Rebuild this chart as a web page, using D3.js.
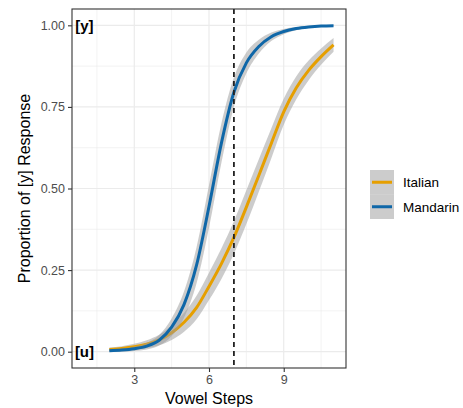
<!DOCTYPE html>
<html>
<head>
<meta charset="utf-8">
<script src="https://cdn.jsdelivr.net/npm/d3@7"></script>
<style>
  body { margin: 0; background: #fff; }
  text { font-family: "Liberation Sans", Arial, Helvetica, sans-serif; }
</style>
</head>
<body>
<div id="chart"></div>
<script>
const width = 463;
const height = 408;

// vowel steps where the fitted curves were read
const steps = [2, 2.5, 3, 3.5, 4, 4.5, 5, 5.5, 6, 6.5, 7, 7.5, 8, 8.5, 9, 9.5, 10, 10.5, 11];

// fitted proportion of [y] response
const italianFit = [0.007, 0.01, 0.015, 0.023, 0.036, 0.058, 0.09, 0.135, 0.2, 0.27, 0.35, 0.443, 0.54, 0.638, 0.735, 0.808, 0.862, 0.904, 0.94];
const mandarinFit = [0.003, 0.005, 0.009, 0.017, 0.035, 0.075, 0.145, 0.265, 0.445, 0.64, 0.795, 0.885, 0.935, 0.965, 0.981, 0.99, 0.995, 0.998, 0.999];

// half width of the confidence band
const italianSe = [0.006, 0.007, 0.009, 0.012, 0.016, 0.022, 0.029, 0.036, 0.042, 0.047, 0.05, 0.052, 0.05, 0.046, 0.04, 0.035, 0.03, 0.025, 0.021];
const mandarinSe = [0.004, 0.005, 0.007, 0.01, 0.016, 0.027, 0.04, 0.055, 0.065, 0.06, 0.045, 0.032, 0.021, 0.013, 0.008, 0.005, 0.003, 0.002, 0.001];

const groups = ["Italian", "Mandarin"];
const xTicks = [3, 6, 9];
const yTicks = [0, 0.25, 0.5, 0.75, 1];
const boundary = 7;
const endLabels = [{ x: 1, y: 1, text: "[y]" }, { x: 1, y: 0, text: "[u]" }];

const series = [
  { name: "Italian", fit: italianFit, se: italianSe },
  { name: "Mandarin", fit: mandarinFit, se: mandarinSe }
];

const color = d3.scaleOrdinal()
  .domain(groups)
  .range(["#E69F00", "#0F67A8"]);

const margin = { top: 9, right: 117, bottom: 40, left: 72 };
const pw = width - margin.left - margin.right;
const ph = height - margin.top - margin.bottom;

const x = d3.scaleLinear().domain([0.5, 11.5]).range([0, pw]);
const y = d3.scaleLinear().domain([-0.05, 1.05]).range([ph, 0]);

const svg = d3.select("#chart")
  .append("svg")
  .attr("width", width)
  .attr("height", height);

const g = svg.append("g")
  .attr("transform", `translate(${margin.left},${margin.top})`);

// grid
const xMinor = [1.5, 4.5, 7.5, 10.5];
const yMinor = [0.125, 0.375, 0.625, 0.875];

g.append("g").selectAll("line")
  .data(xMinor).enter().append("line")
  .attr("x1", d => x(d)).attr("x2", d => x(d))
  .attr("y1", 0).attr("y2", ph)
  .attr("stroke", "#ebebeb").attr("stroke-width", 0.6);
g.append("g").selectAll("line")
  .data(yMinor).enter().append("line")
  .attr("y1", d => y(d)).attr("y2", d => y(d))
  .attr("x1", 0).attr("x2", pw)
  .attr("stroke", "#ebebeb").attr("stroke-width", 0.6);
g.append("g").selectAll("line")
  .data(xTicks).enter().append("line")
  .attr("x1", d => x(d)).attr("x2", d => x(d))
  .attr("y1", 0).attr("y2", ph)
  .attr("stroke", "#ebebeb").attr("stroke-width", 1.2);
g.append("g").selectAll("line")
  .data(yTicks).enter().append("line")
  .attr("y1", d => y(d)).attr("y2", d => y(d))
  .attr("x1", 0).attr("x2", pw)
  .attr("stroke", "#ebebeb").attr("stroke-width", 1.2);

const area = d3.area()
  .x((d, i) => x(steps[i]))
  .y0(d => y(d.lo))
  .y1(d => y(d.hi))
  .curve(d3.curveMonotoneX);

const line = d3.line()
  .x((d, i) => x(steps[i]))
  .y(d => y(d))
  .curve(d3.curveMonotoneX);

series.forEach(s => {
  const band = s.fit.map((v, i) => ({ lo: v - s.se[i], hi: Math.min(1.02, v + s.se[i]) }));
  g.append("path")
    .attr("d", area(band))
    .attr("fill", "#999999")
    .attr("fill-opacity", 0.5);
  g.append("path")
    .attr("d", line(s.fit))
    .attr("fill", "none")
    .attr("stroke", color(s.name))
    .attr("stroke-width", 3);
});

// boundary
g.append("line")
  .attr("x1", x(boundary)).attr("x2", x(boundary))
  .attr("y1", 0).attr("y2", ph)
  .attr("stroke", "#222")
  .attr("stroke-width", 1.8)
  .attr("stroke-dasharray", "5,4");

// [y] / [u]
g.selectAll("text.end")
  .data(endLabels).enter().append("text")
  .attr("class", "end")
  .attr("x", d => x(d.x))
  .attr("y", d => y(d.y))
  .attr("dy", "0.36em")
  .attr("text-anchor", "middle")
  .style("font-size", "15px")
  .style("font-weight", "bold")
  .attr("fill", "#000")
  .text(d => d.text);

// border
g.append("rect")
  .attr("width", pw).attr("height", ph)
  .attr("fill", "none")
  .attr("stroke", "#333").attr("stroke-width", 1.1);

// axes
const xAxis = g.append("g")
  .attr("transform", `translate(0,${ph})`)
  .call(d3.axisBottom(x).tickValues(xTicks).tickSize(4).tickPadding(3));
const yAxis = g.append("g")
  .call(d3.axisLeft(y).tickValues(yTicks).tickFormat(d3.format(".2f")).tickSize(4).tickPadding(3));

[xAxis, yAxis].forEach(a => {
  a.select(".domain").remove();
  a.selectAll(".tick line").attr("stroke", "#333").attr("stroke-width", 1.1);
  a.selectAll(".tick text")
    .attr("fill", "#4d4d4d")
    .style("font-size", "12.5px")
    .style("font-family", "'Liberation Sans', Arial, sans-serif");
});

svg.append("text")
  .attr("x", margin.left + pw / 2)
  .attr("y", 404)
  .attr("text-anchor", "middle")
  .style("font-size", "16px")
  .text("Vowel Steps");

svg.append("text")
  .attr("transform", `translate(30,${margin.top + ph / 2}) rotate(-90)`)
  .attr("text-anchor", "middle")
  .style("font-size", "16px")
  .text("Proportion of [y] Response");

// legend
const legend = svg.append("g")
  .attr("transform", "translate(370,170)");

groups.forEach((name, i) => {
  const k = legend.append("g")
    .attr("transform", `translate(0,${i * 24.5})`);
  k.append("rect")
    .attr("width", 24).attr("height", 24.5)
    .attr("fill", "#999999").attr("fill-opacity", 0.5);
  k.append("line")
    .attr("x1", 2).attr("x2", 22)
    .attr("y1", 12.25).attr("y2", 12.25)
    .attr("stroke", color(name))
    .attr("stroke-width", 3);
  k.append("text")
    .attr("x", 33)
    .attr("y", 12.25)
    .attr("dy", "0.36em")
    .style("font-size", "13.5px")
    .text(name);
});
</script>
</body>
</html>
